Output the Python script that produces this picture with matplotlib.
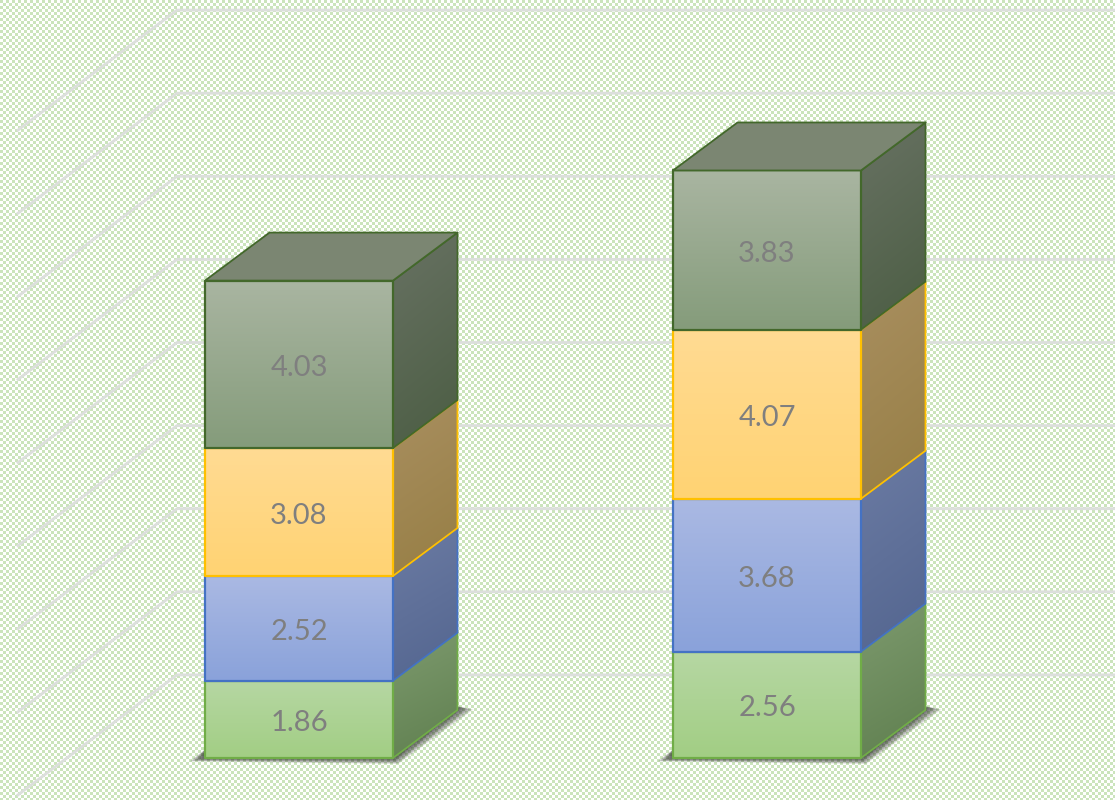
import numpy as np
import matplotlib
matplotlib.use("Agg")
import matplotlib.pyplot as plt
from matplotlib.colors import to_rgb
from matplotlib.patches import Polygon

# ---- data ----
categories = ["A", "B"]
series_1 = [1.86, 2.56]
series_2 = [2.52, 3.68]
series_3 = [3.08, 4.07]
series_4 = [4.03, 3.83]
grid_levels = [2, 4, 6, 8, 10, 12, 14, 16, 18]

# ---- styles: (front top, front bottom, side light, side dark, top, edge) ----
styles = [
    ("#b6d7a3", "#a2ce84", "#7d9a6e", "#5f7f4f", "#7d9a6e", "#70ad47"),
    ("#aab9e3", "#8aa2da", "#6b7ba3", "#53658f", "#6b7ba3", "#4472c4"),
    ("#ffdb93", "#ffd373", "#a98f60", "#967e44", "#a98f60", "#ffc000"),
    ("#a9b5a1", "#859c7b", "#687263", "#4b5d43", "#7b8672", "#43682b"),
]
all_series = [series_1, series_2, series_3, series_4]

W, H = 1115, 800
PX_Y = 41.55            # pixels per value unit
PX_X = 468.0            # pixels per category step
BASE_PX, FIRST_PX = 758, 299
BAR_W = 188 / PX_X
DX, DY = 64.5 / PX_X, 48 / PX_Y

fig = plt.figure(figsize=(W / 100, H / 100), dpi=100)

# chart area hatch fill, pixel for pixel
yy, xx = np.mgrid[0:H, 0:W]
mask = ((xx // 3 + yy // 3) % 2 == 0)[..., None]
bg = mask * np.array(to_rgb("#cbe4bc")) + (~mask) * np.array([1.0, 1.0, 1.0])
fig.figimage(bg, xo=0, yo=0, origin="upper", zorder=-5)

ax = fig.add_axes([0, 0, 1, 1], zorder=5)
ax.patch.set_visible(False)
ax.set_xlim(-FIRST_PX / PX_X, (W - FIRST_PX) / PX_X)
ax.set_ylim((BASE_PX - H) / PX_Y, BASE_PX / PX_Y)
ax.set_axis_off()
xlim, ylim = ax.get_xlim(), ax.get_ylim()

# gridlines: left wall diagonal + back wall horizontal
corner_x = -FIRST_PX / PX_X + 177 / PX_X
wall_dx, wall_dy = 159 / PX_X, 120 / PX_Y
for lv in grid_levels:
    ax.plot([corner_x - wall_dx, corner_x, xlim[1]],
            [lv - wall_dy, lv, lv],
            color="#dcdfdc", lw=2.0, zorder=1, solid_joinstyle="round")


def grad_face(poly, c0, c1, direction, z):
    """Fill polygon with a linear gradient."""
    poly = np.asarray(poly)
    x0, x1 = poly[:, 0].min(), poly[:, 0].max()
    y0, y1 = poly[:, 1].min(), poly[:, 1].max()
    n = 64
    v, u = np.mgrid[0:1:n * 1j, 0:1:n * 1j]
    t = v if direction == "v" else 0.2 * u + 0.8 * v
    c0, c1 = np.array(to_rgb(c0)), np.array(to_rgb(c1))
    img = c0 + (c1 - c0) * t[..., None]
    im = ax.imshow(img, extent=[x0, x1, y0, y1], origin="upper", aspect="auto",
                   interpolation="bilinear", zorder=z)
    im.set_clip_path(Polygon(poly, closed=True, transform=ax.transData))


for i, cat in enumerate(categories):
    xl, xr = i - BAR_W / 2, i + BAR_W / 2

    # soft floor shadow
    steps = 12
    for s in range(steps):
        g = (steps - s) / steps
        ox, oy = 16 * g / PX_X, 5 * g / PX_Y
        shadow = [(xl - ox, -oy * 0.7), (xr + ox / 3, -oy * 1.2),
                  (xr + DX + ox, DY + 2 / PX_Y - oy * 0.3),
                  (xr + DX - 10 / PX_X, DY + 6 / PX_Y), (xl, 0.2)]
        ax.add_patch(Polygon(shadow, closed=True, fc="#202020", ec="none",
                             alpha=0.09, zorder=2))

    bottom = 0.0
    for k, (vals, st) in enumerate(zip(all_series, styles)):
        top = bottom + vals[i]
        ftop, fbot, slight, sdark, topc, edge = st
        z = 3 + k
        front = [(xl, bottom), (xr, bottom), (xr, top), (xl, top)]
        side = [(xr, bottom), (xr + DX, bottom + DY), (xr + DX, top + DY), (xr, top)]
        grad_face(side, slight, sdark, "d", z)
        grad_face(front, ftop, fbot, "v", z)
        ax.add_patch(Polygon(side, closed=True, fc="none", ec=edge, lw=1.3, zorder=z + 0.2,
                             joinstyle="round"))
        ax.add_patch(Polygon(front, closed=True, fc="none", ec=edge, lw=1.6, zorder=z + 0.2,
                             joinstyle="round"))
        if k == len(all_series) - 1:
            lid = [(xl, top), (xr, top), (xr + DX, top + DY), (xl + DX, top + DY)]
            ax.add_patch(Polygon(lid, closed=True, fc=topc, ec=edge, lw=1.3, zorder=z + 0.2,
                                 joinstyle="round"))
        ax.text(i, bottom + vals[i] / 2 - 3.5 / PX_Y, f"{vals[i]:.2f}", ha="center", va="center",
                fontsize=21, family="Lato", color="#7f7f7f", zorder=20)
        bottom = top

ax.set_xlim(-FIRST_PX / PX_X, (W - FIRST_PX) / PX_X)
ax.set_ylim((BASE_PX - H) / PX_Y, BASE_PX / PX_Y)

fig.savefig("out.png", dpi=100)
